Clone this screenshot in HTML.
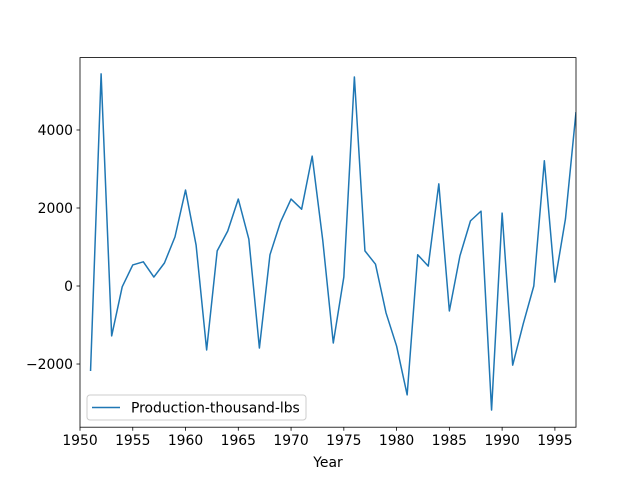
<!DOCTYPE html>
<html><head><meta charset="utf-8"><style>
body{margin:0;background:#fff;}
svg text{font-family:"DejaVu Sans","Liberation Sans",sans-serif;font-size:13.9px;fill:#000;}
</style></head><body>
<svg id="chart" width="640" height="480">
<rect x="0" y="0" width="640" height="480" fill="#fff"/>
<g id="plot"></g>
</svg>
<script>
const years = [1951,1952,1953,1954,1955,1956,1957,1958,1959,1960,1961,1962,1963,1964,1965,1966,1967,1968,1969,1970,1971,1972,1973,1974,1975,1976,1977,1978,1979,1980,1981,1982,1983,1984,1985,1986,1987,1988,1989,1990,1991,1992,1993,1994,1995,1996,1997];
const production = [-2180,5440,-1280,-20,540,620,230,590,1260,2460,1050,-1640,900,1410,2230,1200,-1590,800,1640,2230,1970,3330,1180,-1460,230,5360,900,560,-690,-1540,-2790,800,510,2620,-640,770,1670,1920,-3180,1870,-2030,-970,0,3210,100,1720,4460];
const xTicks = [1950,1955,1960,1965,1970,1975,1980,1985,1990,1995];
const yTicks = [-2000,0,2000,4000];
const seriesName = "Production-thousand-lbs";

const L=80,R=576,T=57.6,B=427.2;
const xMin=1950,xMax=1997,yMin=-3620,yMax=5856;
const xs=v=>L+(v-xMin)/(xMax-xMin)*(R-L);
const ys=v=>B-(v-yMin)/(yMax-yMin)*(B-T);
const NS="http://www.w3.org/2000/svg";
const g=document.getElementById('plot');
function mk(tag,attrs,parent){const e=document.createElementNS(NS,tag);for(const k in attrs)e.setAttribute(k,attrs[k]);(parent||g).appendChild(e);return e;}

const pts=years.map((y,i)=>xs(y).toFixed(2)+","+ys(production[i]).toFixed(2)).join(" ");
const clip=mk('clipPath',{id:'c'});mk('rect',{x:L,y:T,width:R-L,height:B-T},clip);
const line=mk('polyline',{points:pts,fill:'none',stroke:'#1f77b4','stroke-width':1.5,'clip-path':'url(#c)','stroke-linejoin':'round'});



const frame=mk('rect',{x:L,y:T,width:R-L,height:B-T,fill:'none',stroke:'#000','stroke-width':0.8});



xTicks.forEach(t=>{
  const x=xs(t);
  mk('line',{x1:x,x2:x,y1:B,y2:B+3.5,stroke:'#000','stroke-width':0.8});
  const tx=mk('text',{x:x,y:B+18,'text-anchor':'middle'});tx.textContent=t;
  
  
});
yTicks.forEach(t=>{
  const y=ys(t);
  mk('line',{x1:L-3.5,x2:L,y1:y,y2:y,stroke:'#000','stroke-width':0.8});
  const tx=mk('text',{x:L-7,y:y+5,'text-anchor':'end'});tx.textContent=t<0?'\u2212'+Math.abs(t):t;
  
  
});
const xt=mk('text',{x:(L+R)/2,y:467,'text-anchor':'middle'});xt.textContent='Year';



const lg=mk('g',{});


mk('rect',{x:87,y:395,width:219,height:25,rx:3,fill:'#fff','fill-opacity':0.8,stroke:'#ccc','stroke-width':1},lg);
mk('line',{x1:92,x2:120,y1:407.5,y2:407.5,stroke:'#1f77b4','stroke-width':1.5},lg);
const lt=mk('text',{x:131,y:412.5},lg);lt.textContent=seriesName;


</script>
</body></html>
